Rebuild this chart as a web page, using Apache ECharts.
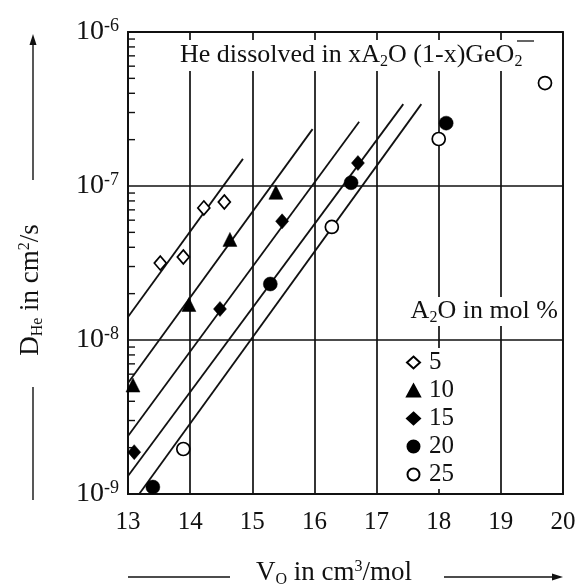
<!DOCTYPE html>
<html><head><meta charset="utf-8">
<script src="https://cdn.jsdelivr.net/npm/echarts@6/dist/echarts.min.js"></script>
<style>html,body{margin:0;padding:0;background:#fff}#c{width:580px;height:588px}</style>
</head><body><div id="c"></div>
<script>
// ---- data ----
const xTicks = [13, 14, 15, 16, 17, 18, 19, 20];
const yDecades = [-9, -8, -7, -6];
const minorMultipliers = [2, 3, 4, 5, 6, 7, 8, 9];
const legendLabels = ['5', '10', '15', '20', '25'];

const vO_5 = [13.52, 13.89, 14.22, 14.55];
const D_5 = [3.16e-8, 3.46e-8, 7.2e-8, 7.87e-8];
const vO_10 = [13.08, 13.98, 14.64, 15.38];
const D_10 = [5.1e-9, 1.7e-8, 4.5e-8, 9.1e-8];
const vO_15 = [13.10, 14.48, 15.48, 16.70];
const D_15 = [1.87e-9, 1.59e-8, 5.9e-8, 1.41e-7];
const vO_20 = [13.40, 15.29, 16.59, 18.12];
const D_20 = [1.11e-9, 2.31e-8, 1.05e-7, 2.56e-7];
const vO_25 = [13.89, 16.28, 18.00, 19.71];
const D_25 = [1.96e-9, 5.42e-8, 2.02e-7, 4.66e-7];

// fitted lines: start (V, D) and end (V, D)
const fitV_5 = [13.0, 14.85];   const fitD_5 = [1.41e-8, 1.50e-7];
const fitV_10 = [13.0, 15.97];  const fitD_10 = [5.26e-9, 2.34e-7];
const fitV_15 = [13.0, 16.72];  const fitD_15 = [2.38e-9, 2.61e-7];
const fitV_20 = [13.0, 17.43];  const fitD_20 = [1.31e-9, 3.40e-7];
const fitV_25 = [13.18, 17.72]; const fitD_25 = [1.0e-9, 3.40e-7];

// ---- build ----
const zip = (a, b) => a.map((v, i) => [v, b[i]]);
const FONT = 'Liberation Serif';
const xMin = xTicks[0], xMax = xTicks[xTicks.length - 1];
const yMin = Math.pow(10, yDecades[0]), yMax = Math.pow(10, yDecades[yDecades.length - 1]);
const minorVals = [];
yDecades.slice(0, -1).forEach(d => minorMultipliers.forEach(m => minorVals.push(m * Math.pow(10, d))));

const pointSets = [
  {name: legendLabels[0], data: zip(vO_5, D_5), symbol: 'diamond', size: [12, 14], fill: '#fff'},
  {name: legendLabels[1], data: zip(vO_10, D_10), symbol: 'triangle', size: 14, fill: '#000'},
  {name: legendLabels[2], data: zip(vO_15, D_15), symbol: 'diamond', size: [13, 15], fill: '#000'},
  {name: legendLabels[3], data: zip(vO_20, D_20), symbol: 'circle', size: 14, fill: '#000'},
  {name: legendLabels[4], data: zip(vO_25, D_25), symbol: 'circle', size: 13, fill: '#fff'}
];
const fits = [zip(fitV_5, fitD_5), zip(fitV_10, fitD_10), zip(fitV_15, fitD_15), zip(fitV_20, fitD_20), zip(fitV_25, fitD_25)];

const series = [];
fits.forEach((f, i) => series.push({
  type: 'line', data: f, symbol: 'none', silent: true, z: 3,
  lineStyle: {color: '#111', width: 1.8}
}));
series.push({
  type: 'custom', silent: true, z: 4,
  data: minorVals.map(v => [xMin, v]),
  renderItem: (params, api) => {
    const p = api.coord([api.value(0), api.value(1)]);
    return {type: 'line', shape: {x1: p[0], y1: p[1], x2: p[0] + 7, y2: p[1]},
            style: {stroke: '#111', lineWidth: 1.4}};
  }
});
pointSets.forEach(s => series.push({
  type: 'scatter', name: s.name, data: s.data, symbol: s.symbol, symbolSize: s.size, z: 5,
  itemStyle: {color: s.fill, borderColor: '#000', borderWidth: s.fill === '#fff' ? 1.7 : 0.5, opacity: 1}
}));

const subStyle = {fontFamily: FONT, fontSize: 16, fill: '#111', verticalAlign: 'bottom', padding: [13, 0, 0, 0]};
const supStyle = {fontFamily: FONT, fontSize: 16, fill: '#111', verticalAlign: 'top', padding: [0, 0, 10, 0]};

const option = {
  animation: false,
  backgroundColor: '#fff',
  grid: {left: 128, top: 32, right: 17, bottom: 94, show: true, borderColor: '#111', borderWidth: 1.8, backgroundColor: 'transparent'},
  xAxis: {
    type: 'value', min: xMin, max: xMax, interval: 1,
    axisLine: {show: true, lineStyle: {color: '#111', width: 1.8}},
    axisTick: {show: false},
    splitLine: {show: true, lineStyle: {color: '#111', width: 1.7}},
    axisLabel: {fontFamily: FONT, fontSize: 25, color: '#111', margin: 16}
  },
  yAxis: {
    type: 'log', logBase: 10, min: yMin, max: yMax,
    axisLine: {show: true, lineStyle: {color: '#111', width: 1.8}},
    axisTick: {show: false},
    splitLine: {show: true, lineStyle: {color: '#111', width: 1.7}},
    axisLabel: {
      fontFamily: FONT, fontSize: 28, color: '#111', margin: 9,
      formatter: v => '10{sup|' + Math.round(Math.log10(v)) + '}',
      rich: {sup: {fontFamily: FONT, fontSize: 18, color: '#111', verticalAlign: 'top', padding: [0, 0, 11, 0]}}
    }
  },
  legend: {
    orient: 'vertical', left: 404, top: 348, itemGap: 3, itemWidth: 13, itemHeight: 12,
    backgroundColor: '#fff', padding: [2, 6, 2, 2],
    textStyle: {fontFamily: FONT, fontSize: 25, color: '#111', padding: [0, 0, 0, 4]},
    data: legendLabels
  },
  graphic: [
    {type: 'text', left: 177, top: 40, z: 10,
     style: {text: 'He dissolved in xA{sub|2}O (1-x)GeO{sub|2}', fontFamily: FONT, fontSize: 26, fill: '#111',
             backgroundColor: '#fff', padding: [1, 3, 1, 3], rich: {sub: subStyle}}},
    {type: 'line', z: 11, shape: {x1: 517, y1: 41, x2: 534, y2: 41}, style: {stroke: '#111', lineWidth: 1.3}},
    {type: 'text', right: 20, top: 297, z: 10,
     style: {text: 'A{sub|2}O in mol %', fontFamily: FONT, fontSize: 26, fill: '#111',
             backgroundColor: '#fff', padding: [0, 2, 0, 2], rich: {sub: subStyle}}},
    // y axis title + arrows
    {type: 'text', x: 31, y: 290, rotation: Math.PI / 2, z: 10,
     style: {text: 'D{sub|He} in cm{sup|2}/s', fontFamily: FONT, fontSize: 27, fill: '#111', align: 'center', verticalAlign: 'middle',
             rich: {sub: subStyle, sup: supStyle}}},
    {type: 'line', shape: {x1: 33, y1: 180, x2: 33, y2: 42}, style: {stroke: '#111', lineWidth: 1.4}},
    {type: 'polygon', shape: {points: [[33, 34], [29.5, 45], [36.5, 45]]}, style: {fill: '#111'}},
    {type: 'line', shape: {x1: 33, y1: 387, x2: 33, y2: 500}, style: {stroke: '#111', lineWidth: 1.4}},
    // x axis title + arrows
    {type: 'text', x: 334, y: 573, z: 10,
     style: {text: 'V{sub|O} in cm{sup|3}/mol', fontFamily: FONT, fontSize: 27, fill: '#111', align: 'center', verticalAlign: 'middle',
             rich: {sub: subStyle, sup: supStyle}}},
    {type: 'line', shape: {x1: 128, y1: 577, x2: 230, y2: 577}, style: {stroke: '#111', lineWidth: 1.4}},
    {type: 'line', shape: {x1: 444, y1: 577, x2: 555, y2: 577}, style: {stroke: '#111', lineWidth: 1.4}},
    {type: 'polygon', shape: {points: [[563, 577], [552, 573.5], [552, 580.5]]}, style: {fill: '#111'}}
  ],
  series: series
};
const chart = echarts.init(document.getElementById('c'), null, {renderer: 'canvas'});
chart.setOption(option);
</script></body></html>
